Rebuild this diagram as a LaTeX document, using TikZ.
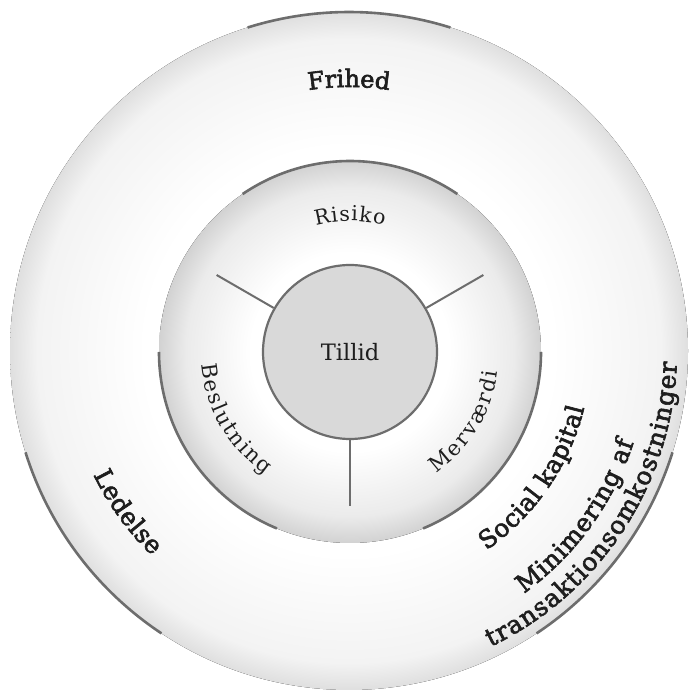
\documentclass[tikz,border=0pt]{standalone}
\usepackage{fontspec}
\setmainfont{DejaVu Serif}
\newfontfamily\innerfam{DejaVu Serif}
\newfontfamily\outerfam[FakeBold=2.5]{DejaVu Serif}
\usetikzlibrary{decorations.text,calc}
\definecolor{linegray}{HTML}{6D6D6D}
\definecolor{textcol}{HTML}{1E1E1E}
\definecolor{outedge}{HTML}{DFDFDF}
\definecolor{outmid}{HTML}{F3F3F3}
\definecolor{midedge}{HTML}{D2D2D2}
\definecolor{midmid}{HTML}{EBEBEB}
\definecolor{innerfill}{HTML}{D9D9D9}
\pgfdeclareradialshading{outershade}{\pgfpoint{0bp}{0bp}}{color(0bp)=(white); color(15bp)=(white); color(23bp)=(outmid); color(25bp)=(outedge); color(50bp)=(outedge)}
\pgfdeclareradialshading{middleshade}{\pgfpoint{0bp}{0bp}}{color(0bp)=(white); color(13bp)=(white); color(21.5bp)=(midmid); color(25bp)=(midedge); color(50bp)=(midedge)}
\newcommand{\labfont}{\innerfam\fontsize{10.3}{12}\selectfont\color{textcol}}
\newcommand{\labfontb}{\innerfam\fontsize{10.6}{12}\selectfont\color{textcol}}
\newcommand{\boldlab}{\outerfam\fontsize{12}{14}\selectfont\color{textcol}}
\newcommand{\boldlabb}{\outerfam\fontsize{12.4}{14}\selectfont\color{textcol}}
\begin{document}
\begin{tikzpicture}[x=0.5pt,y=0.5pt,
  arcline/.style={draw=linegray, line width=1.3pt},
  spoke/.style={draw=linegray, line width=1pt},
  ctext/.style n args={3}{decorate, decoration={text effects along path, text={#1}, text align=center,
     text effects/.cd, text along path, characters={font=#2}, character widths={font=#2, inner xsep=#3}}}]
\useasboundingbox (0,0) rectangle (689,690);
\coordinate (O) at (349,339);
\coordinate (C) at (350,338);
% outer disc
\fill[shading=outershade] (O) circle[radius=339];
\draw[arcline] ($(O)+(72.6:339)$) arc[start angle=72.6, end angle=107.4, radius=339];
\draw[arcline] ($(O)+(197.4:339)$) arc[start angle=197.4, end angle=236.4, radius=339];
\draw[arcline] ($(O)+(303.6:339)$) arc[start angle=303.6, end angle=342.6, radius=339];
% middle disc
\fill[shading=middleshade] (C) circle[radius=191];
\draw[arcline] ($(C)+(55.8:191)$) arc[start angle=55.8, end angle=124.2, radius=191];
\draw[arcline] ($(C)+(180:191)$) arc[start angle=180, end angle=247.5, radius=191];
\draw[arcline] ($(C)+(292.5:191)$) arc[start angle=292.5, end angle=360, radius=191];
% inner disc
\node[circle, draw=linegray, line width=1.1pt, fill=innerfill, minimum size=87pt, inner sep=0pt, text=textcol, font=\innerfam\fontsize{11.3}{13}\selectfont] (tillid) at (C) {Tillid};
\coordinate (s1) at ($(C)+(150:154)$);
\coordinate (s2) at ($(C)+(30:154)$);
\coordinate (s3) at ($(C)+(270:154)$);
\draw[spoke] (tillid.150) -- (s1);
\draw[spoke] (tillid.30) -- (s2);
\draw[spoke] (tillid.270) -- (s3);
% inner ring labels
\path[ctext={Risiko}{\labfont}{0.25pt}] ($(C)+(130:131)$) arc[start angle=130, end angle=50, radius=131];
\path[ctext={Beslutning}{\labfontb}{0.45pt}] ($(C)+(170:149)$) arc[start angle=170, end angle=250, radius=149];
\path[ctext={Merværdi}{\labfontb}{0.55pt}] ($(C)+(-71:149)$) arc[start angle=-71, end angle=9, radius=149];
% outer ring labels
\path[ctext={Frihed}{\boldlab}{0pt}] ($(O)+(130:264)$) arc[start angle=130, end angle=50, radius=264];
\path[ctext={Ledelse}{\boldlabb}{0.15pt}] ($(O)+(176:284)$) arc[start angle=176, end angle=256, radius=284];
\path[ctext={Social kapital}{\boldlabb}{0.12pt}] ($(O)+(-74.5:242)$) arc[start angle=-74.5, end angle=5.5, radius=242];
\path[ctext={Minimering af}{\boldlabb}{0.23pt}] ($(O)+(-76:299)$) arc[start angle=-76, end angle=4, radius=299];
\path[ctext={transaktionsomkostninger}{\boldlabb}{0.3pt}] ($(O)+(-78.7:328)$) arc[start angle=-78.7, end angle=12.3, radius=328];
\end{tikzpicture}
\end{document}
